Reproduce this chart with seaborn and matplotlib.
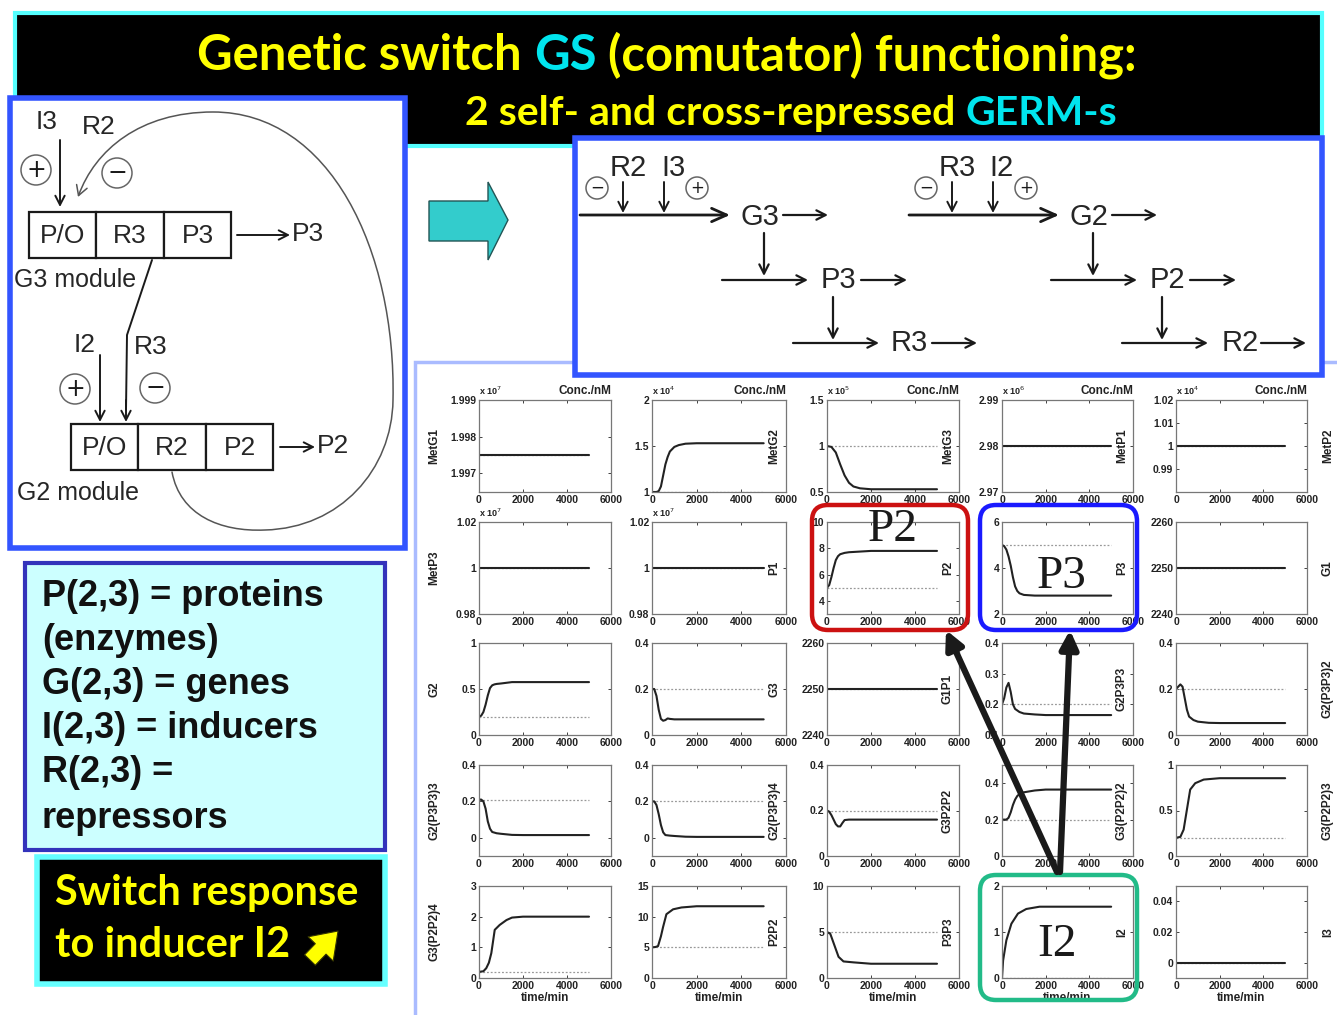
import matplotlib
matplotlib.use('Agg')
import matplotlib.pyplot as plt
import seaborn as sns
from matplotlib.patches import Rectangle, Circle, FancyBboxPatch, Polygon, FancyArrowPatch
from matplotlib.path import Path
from matplotlib.ticker import FuncFormatter
from matplotlib import font_manager as fm

W, H = 1337, 1015

# ---- data (time in min) ----
T_FLAT = [0, 5000]
METG1 = [1.9975, 1.9975]
T_METG2 = [0, 200, 300, 400, 500, 600, 700, 800, 1000, 1200, 1500, 2000, 5000]
METG2 = [1.0, 1.0, 1.01, 1.06, 1.18, 1.30, 1.38, 1.44, 1.49, 1.51, 1.525, 1.53, 1.53]
T_METG3 = [0, 200, 400, 600, 800, 1000, 1200, 1500, 2000, 5000]
METG3 = [1.0, 0.99, 0.93, 0.80, 0.68, 0.60, 0.56, 0.54, 0.53, 0.53]
METP1 = [2.98, 2.98]
METP2 = [1.0, 1.0]
METP3 = [1.0, 1.0]
P1 = [1.0, 1.0]
T_P2 = [0, 100, 200, 300, 400, 500, 600, 800, 1000, 1500, 2000, 5000]
P2 = [5.0, 5.2, 5.8, 6.5, 7.1, 7.4, 7.55, 7.65, 7.7, 7.75, 7.8, 7.8]
T_P3 = [0, 100, 200, 300, 400, 500, 600, 700, 800, 1000, 1500, 2000, 5000]
P3 = [5.0, 4.95, 4.8, 4.5, 4.1, 3.6, 3.2, 3.0, 2.9, 2.83, 2.8, 2.8, 2.8]
G1 = [2250, 2250]
T_G2 = [0, 100, 200, 300, 400, 500, 600, 700, 800, 1000, 1500, 2000, 5000]
G2 = [0.2, 0.21, 0.25, 0.33, 0.43, 0.51, 0.54, 0.55, 0.555, 0.56, 0.575, 0.575, 0.575]
T_G3 = [0, 100, 200, 300, 400, 500, 600, 700, 800, 1000, 1500, 5000]
G3 = [0.2, 0.2, 0.17, 0.11, 0.07, 0.062, 0.065, 0.072, 0.07, 0.068, 0.068, 0.068]
G1P1 = [2250, 2250]
T_G2P3P3 = [0, 100, 200, 300, 400, 500, 600, 800, 1000, 1500, 2000, 5000]
G2P3P3 = [0.2, 0.22, 0.255, 0.27, 0.24, 0.2, 0.185, 0.175, 0.17, 0.167, 0.165, 0.165]
T_G2P3P3_2 = [0, 100, 200, 300, 400, 500, 600, 800, 1000, 1500, 2000, 5000]
G2P3P3_2 = [0.2, 0.21, 0.22, 0.21, 0.16, 0.11, 0.08, 0.065, 0.058, 0.053, 0.052, 0.052]
T_G2P3P3_3 = [0, 100, 200, 300, 400, 500, 600, 800, 1000, 1500, 2000, 5000]
G2P3P3_3 = [0.21, 0.21, 0.2, 0.16, 0.09, 0.05, 0.032, 0.025, 0.022, 0.016, 0.015, 0.015]
T_G2P3P3_4 = [0, 100, 200, 300, 400, 500, 600, 800, 1000, 1500, 2000, 5000]
G2P3P3_4 = [0.2, 0.2, 0.18, 0.13, 0.07, 0.03, 0.015, 0.012, 0.01, 0.006, 0.005, 0.005]
T_G3P2P2 = [0, 100, 200, 300, 400, 500, 600, 700, 800, 1000, 1500, 5000]
G3P2P2 = [0.2, 0.195, 0.18, 0.16, 0.14, 0.13, 0.13, 0.145, 0.158, 0.16, 0.16, 0.16]
T_G3P2P2_2 = [0, 200, 300, 400, 500, 600, 700, 800, 1000, 1500, 2000, 5000]
G3P2P2_2 = [0.2, 0.2, 0.21, 0.24, 0.28, 0.31, 0.33, 0.34, 0.35, 0.36, 0.365, 0.365]
T_G3P2P2_3 = [0, 200, 350, 500, 650, 880, 1270, 2000, 5000]
G3P2P2_3 = [0.2, 0.21, 0.29, 0.51, 0.73, 0.80, 0.84, 0.855, 0.855]
T_G3P2P2_4 = [0, 200, 330, 450, 560, 715, 940, 1250, 1500, 2000, 5000]
G3P2P2_4 = [0.2, 0.22, 0.32, 0.5, 0.81, 1.57, 1.73, 1.89, 1.97, 2.0, 2.0]
T_P2P2 = [0, 150, 270, 400, 495, 645, 945, 1320, 2000, 5000]
P2P2 = [5.0, 5.05, 5.2, 6.8, 8.3, 10.4, 11.2, 11.5, 11.7, 11.7]
T_P3P3 = [0, 150, 300, 525, 750, 1200, 2000, 5000]
P3P3 = [5.0, 4.8, 3.8, 2.3, 1.8, 1.7, 1.55, 1.55]
T_I2 = [0, 50, 200, 430, 730, 1110, 1720, 5000]
I2 = [0.0, 0.38, 0.82, 1.18, 1.4, 1.5, 1.55, 1.55]
I3 = [0.0, 0.0]

PANEL_NAMES = ['MetG1', 'MetG2', 'MetG3', 'MetP1', 'MetP2',
               'MetP3', 'P1', 'P2', 'P3', 'G1',
               'G2', 'G3', 'G1P1', 'G2P3P3', 'G2(P3P3)2',
               'G2(P3P3)3', 'G2(P3P3)4', 'G3P2P2', 'G3(P2P2)2', 'G3(P2P2)3',
               'G3(P2P2)4', 'P2P2', 'P3P3', 'I2', 'I3']
PANEL_DATA = [(T_FLAT, METG1), (T_METG2, METG2), (T_METG3, METG3), (T_FLAT, METP1), (T_FLAT, METP2),
              (T_FLAT, METP3), (T_FLAT, P1), (T_P2, P2), (T_P3, P3), (T_FLAT, G1),
              (T_G2, G2), (T_G3, G3), (T_FLAT, G1P1), (T_G2P3P3, G2P3P3), (T_G2P3P3_2, G2P3P3_2),
              (T_G2P3P3_3, G2P3P3_3), (T_G2P3P3_4, G2P3P3_4), (T_G3P2P2, G3P2P2),
              (T_G3P2P2_2, G3P2P2_2), (T_G3P2P2_3, G3P2P2_3),
              (T_G3P2P2_4, G3P2P2_4), (T_P2P2, P2P2), (T_P3P3, P3P3), (T_I2, I2), (T_FLAT, I3)]
# axis ranges / ticks / "x 10^n" multipliers
PANEL_YLIM = [(1.99648, 1.999), (1, 2), (0.5, 1.5), (2.97, 2.99), (0.98, 1.02),
              (0.98, 1.02), (0.98, 1.02), (3, 10), (2, 6), (2240, 2260),
              (0, 1), (0, 0.4), (2240, 2260), (0.1, 0.4), (0, 0.4),
              (-0.1, 0.4), (-0.1, 0.4), (0, 0.4), (0, 0.5), (0, 1),
              (0, 3), (0, 15), (0, 10), (0, 2), (-0.01, 0.05)]
PANEL_YTICKS = [[1.997, 1.998, 1.999], [1, 1.5, 2], [0.5, 1, 1.5], [2.97, 2.98, 2.99], [0.99, 1, 1.01, 1.02],
                [0.98, 1, 1.02], [0.98, 1, 1.02], [4, 6, 8, 10], [2, 4, 6], [2240, 2250, 2260],
                [0, 0.5, 1], [0, 0.2, 0.4], [2240, 2250, 2260], [0.1, 0.2, 0.3, 0.4], [0, 0.2, 0.4],
                [0, 0.2, 0.4], [0, 0.2, 0.4], [0, 0.2, 0.4], [0, 0.2, 0.4], [0, 0.5, 1],
                [0, 1, 2, 3], [0, 5, 10, 15], [0, 5, 10], [0, 1, 2], [0, 0.02, 0.04]]
PANEL_EXP = ['7', '4', '5', '6', '4', '7', '7'] + [None] * 18
X_TICKS = [0, 2000, 4000, 6000]

COL_X = [(479, 611), (652, 786), (827, 959), (1002, 1133), (1176, 1307)]
ROW_Y = [(400, 492), (522, 614), (643, 735), (765, 856), (886, 978)]

sns.set_theme(style='ticks')
names = {f.name for f in fm.fontManager.ttflist}
NARROW = 'Liberation Sans Narrow' if 'Liberation Sans Narrow' in names else 'Liberation Sans'
plt.rcParams['font.family'] = ['Liberation Sans', 'DejaVu Sans']

fig = plt.figure(figsize=(W / 100, H / 100), dpi=100)
fig.patch.set_facecolor('white')
renderer = fig.canvas.get_renderer()


def frac(x0, y0, x1, y1):
    return [x0 / W, 1 - y1 / H, (x1 - x0) / W, (y1 - y0) / H]


def pixel_axes():
    a = fig.add_axes([0, 0, 1, 1])
    a.set_xlim(0, W)
    a.set_ylim(H, 0)
    a.axis('off')
    return a


bg = pixel_axes()


def arrow(ax, x0, y0, x1, y1, lw=1.6, color='k', style='->,head_length=0.55,head_width=0.28'):
    ax.annotate('', xy=(x1, y1), xytext=(x0, y0),
                arrowprops=dict(arrowstyle=style, lw=lw, color=color, shrinkA=0, shrinkB=0))


def sign(ax, x, y, r, s, fs):
    ax.add_patch(Circle((x, y), r, fc='white', ec='#666666', lw=1.1))
    ax.text(x, y, s, ha='center', va='center', fontsize=fs, color='k', family='DejaVu Sans')


def text_width(ax, s, **kw):
    t = ax.text(0, 0, s, **kw)
    w = t.get_window_extent(renderer).width
    t.remove()
    return w


def multicolor(ax, x, y, parts, target_w=None, size=28, ha='center', **kw):
    kw.update(fontsize=size)
    full = ' '.join(p for p, _ in parts)
    if target_w:
        kw['fontsize'] = size * target_w / text_width(ax, full, **kw)
    total = text_width(ax, full, **kw)
    x0 = x - total / 2 if ha == 'center' else x
    for k, (s, c) in enumerate(parts):
        joined = ' '.join(p for p, _ in parts[:k + 1])
        start = text_width(ax, joined, **kw) - text_width(ax, s, **kw)
        ax.text(x0 + start, y, s, color=c, ha='left', va='center', **kw)


# ---- title banner ----
bg.add_patch(Rectangle((15, 13), 1307, 133, fc='black', ec='#55ffff', lw=3))
multicolor(bg, 667, 55, [('Genetic switch', '#ffff00'), ('GS', '#00e5ee'),
                         ('(comutator) functioning:', '#ffff00')],
           target_w=940, family='Lato', weight='bold')
multicolor(bg, 465, 113, [('2 self- and cross-repressed', '#ffff00'), ('GERM-s', '#00e5ee')],
           target_w=652, ha='left', family='Lato', weight='bold')

# ---- light frame around the simulation grid ----
bg.add_patch(Rectangle((415, 362), 940, 680, fc='white', ec='#aabbff', lw=2.5))

# ---- left module diagram ----
bg.add_patch(Rectangle((10, 98), 395, 450, fc='white', ec='#3355ff', lw=4))
dfs = 19
bg.text(47, 122, 'I3', ha='center', va='center', fontsize=dfs, family=NARROW)
bg.text(99, 127, 'R2', ha='center', va='center', fontsize=dfs, family=NARROW)
sign(bg, 36, 170, 15, '+', 17)
sign(bg, 117, 173, 15, '\u2212', 17)
arrow(bg, 60, 140, 60, 207, lw=1.4)
for x0, y0, labels in [(29, 212, ['P/O', 'R3', 'P3']), (71, 424, ['P/O', 'R2', 'P2'])]:
    widths = [67, 68, 67]
    xx = x0
    for w, lab in zip(widths, labels):
        bg.add_patch(Rectangle((xx, y0), w, 46, fc='white', ec='k', lw=1.6))
        bg.text(xx + w / 2, y0 + 24, lab, ha='center', va='center', fontsize=dfs, family=NARROW)
        xx += w
arrow(bg, 237, 235, 290, 235, lw=1.4)
bg.text(292, 234, 'P3', ha='left', va='center', fontsize=dfs, family=NARROW)
bg.text(14, 280, 'G3 module', ha='left', va='center', fontsize=18, family=NARROW)
bg.plot([152, 127, 126], [260, 335, 410], color='k', lw=1.4)
arrow(bg, 126, 400, 126, 422, lw=1.4)
bg.text(85, 345, 'I2', ha='center', va='center', fontsize=dfs, family=NARROW)
bg.text(151, 347, 'R3', ha='center', va='center', fontsize=dfs, family=NARROW)
sign(bg, 75, 389, 15, '+', 17)
sign(bg, 155, 388, 15, '\u2212', 17)
arrow(bg, 100, 355, 100, 422, lw=1.4)
arrow(bg, 280, 447, 315, 447, lw=1.4)
bg.text(317, 446, 'P2', ha='left', va='center', fontsize=dfs, family=NARROW)
bg.text(17, 493, 'G2 module', ha='left', va='center', fontsize=18, family=NARROW)
loop = Path([(172, 472), (180, 515), (220, 532), (265, 530),
             (340, 528), (392, 470), (393, 400),
             (396, 250), (330, 112), (213, 112),
             (140, 112), (95, 150), (78, 197)],
            [Path.MOVETO] + [Path.CURVE4] * 12)
bg.add_patch(FancyArrowPatch(path=loop, arrowstyle='->,head_length=7,head_width=4',
                             color='#555555', lw=1.1))

# ---- cyan block arrow ----
bg.add_patch(Polygon([(429, 201), (488, 201), (488, 182), (508, 220), (488, 260),
                      (488, 241), (429, 241)], fc='#33cccc', ec='#225555', lw=1))

# ---- right reaction scheme ----
bg.add_patch(Rectangle((575, 138), 747, 237, fc='white', ec='#3355ff', lw=4))
rfs = 21
for dx in [0, 329]:
    sign(bg, 597 + dx, 188, 11, '\u2212', 12)
    sign(bg, 697 + dx, 188, 11, '+', 12)
    arrow(bg, 623 + dx, 182, 623 + dx, 213, lw=1.4)
    arrow(bg, 664 + dx, 182, 664 + dx, 213, lw=1.4)
    arrow(bg, 580 + dx, 215, 730 + dx, 215, lw=2.0, style='->,head_length=0.9,head_width=0.4')
    arrow(bg, 783 + dx, 215, 828 + dx, 215)
    arrow(bg, 764 + dx, 233, 764 + dx, 276)
    arrow(bg, 722 + dx, 280, 808 + dx, 280)
    arrow(bg, 861 + dx, 280, 907 + dx, 280)
    arrow(bg, 833 + dx, 297, 833 + dx, 340)
    arrow(bg, 793 + dx, 343, 879 + dx, 343)
    arrow(bg, 932 + dx, 343, 977 + dx, 343)
for (x, y, s) in [(628, 168, 'R2'), (673, 168, 'I3'), (957, 168, 'R3'), (1001, 168, 'I2'),
                  (760, 217, 'G3'), (838, 280, 'P3'), (909, 343, 'R3'),
                  (1089, 217, 'G2'), (1167, 280, 'P2'), (1240, 343, 'R2')]:
    bg.text(x, y, s, ha='center', va='center', fontsize=rfs, family=NARROW)

# ---- legend boxes ----
bg.add_patch(Rectangle((25, 563), 360, 287, fc='#ccffff', ec='#3333bb', lw=3))
for y, s in zip([596, 640, 685, 729, 773, 818],
                ['P(2,3) = proteins', '(enzymes)', 'G(2,3) = genes', 'I(2,3) = inducers',
                 'R(2,3) =', 'repressors']):
    bg.text(42, y, s, ha='left', va='center', fontsize=26, color='#111111',
            family='Liberation Sans', weight='bold')
bg.add_patch(Rectangle((37, 857), 348, 127, fc='black', ec='#66ffff', lw=4))
bg.text(55, 893, 'Switch response', ha='left', va='center', fontsize=30, color='#ffff00',
        family='Lato', weight='bold')
bg.text(55, 945, 'to inducer I2', ha='left', va='center', fontsize=30, color='#ffff00',
        family='Lato', weight='bold')
bg.add_patch(FancyArrowPatch((308, 962), (340, 929),
                             arrowstyle='simple,head_length=1.0,head_width=1.4,tail_width=0.6',
                             mutation_scale=18, fc='#ffff00', ec='#333300', lw=0.8))

# ---- simulation panels ----
fmt = FuncFormatter(lambda val, pos: f'{val:g}')
for i, name in enumerate(PANEL_NAMES):
    r, c = divmod(i, 5)
    t, v = PANEL_DATA[i]
    x0, x1 = COL_X[c]
    y0, y1 = ROW_Y[r]
    ax = fig.add_axes(frac(x0, y0, x1, y1))
    sns.lineplot(x=[t[0], t[-1]], y=[v[0], v[0]], ax=ax, color='#999999', lw=0.9,
                 linestyle=(0, (1.5, 1.5)))
    sns.lineplot(x=t, y=v, ax=ax, color='#222222', lw=1.5)
    ax.set_xlim(0, 6000)
    ax.set_ylim(*PANEL_YLIM[i])
    ax.set_xticks(X_TICKS)
    ax.set_yticks(PANEL_YTICKS[i])
    ax.xaxis.set_major_formatter(fmt)
    ax.yaxis.set_major_formatter(fmt)
    ax.tick_params(direction='in', top=True, right=True, length=2.5, width=0.6,
                   labelsize=7.5, pad=2, colors='#222222')
    for lab in ax.get_xticklabels() + ax.get_yticklabels():
        lab.set_fontweight('bold')
    ax.set_xlabel('')
    ax.set_ylabel('')
    for s in ax.spines.values():
        s.set_color('#777777')
        s.set_linewidth(0.9)
    lx = -0.34 if c == 0 else (1.16 if c == 4 else 0.915)
    ax.text(lx, 0.5, name, rotation=90, transform=ax.transAxes, ha='center', va='center',
            fontsize=8.5, fontweight='bold', color='#222222')
    if r == 0:
        ax.text(1.0, 1.03, 'Conc./nM', transform=ax.transAxes, ha='right', va='bottom',
                fontsize=8.5, fontweight='bold', color='#222222')
    if PANEL_EXP[i]:
        ax.text(0.0, 1.03, f'x 10$^{{{PANEL_EXP[i]}}}$', transform=ax.transAxes,
                ha='left', va='bottom', fontsize=6.5, fontweight='bold', color='#222222')
    if r == 4:
        ax.set_xlabel('time/min', fontsize=8.5, fontweight='bold', labelpad=1, color='#222222')

# ---- highlight overlay ----
ov = pixel_axes()
for (x0, y0, x1, y1, col) in [(812, 505, 968, 630, '#cc1111'), (980, 505, 1137, 630, '#1a1aff'),
                              (980, 875, 1137, 1000, '#22bb88')]:
    ov.add_patch(FancyBboxPatch((x0, y0), x1 - x0, y1 - y0,
                                boxstyle='round,pad=0,rounding_size=16', fc='none', ec=col, lw=3.2))
for (x, y, s) in [(893, 530, 'P2'), (1062, 577, 'P3'), (1057, 945, 'I2')]:
    ov.text(x, y, s, ha='center', va='center', fontsize=34, family='Liberation Serif', color='#1a1a1a')
arrow(ov, 1057, 872, 946, 630, lw=4.5, style='-|>,head_length=0.9,head_width=0.45')
arrow(ov, 1060, 872, 1070, 630, lw=4.5, style='-|>,head_length=0.9,head_width=0.45')

fig.savefig('out.png', dpi=100, facecolor='white')
